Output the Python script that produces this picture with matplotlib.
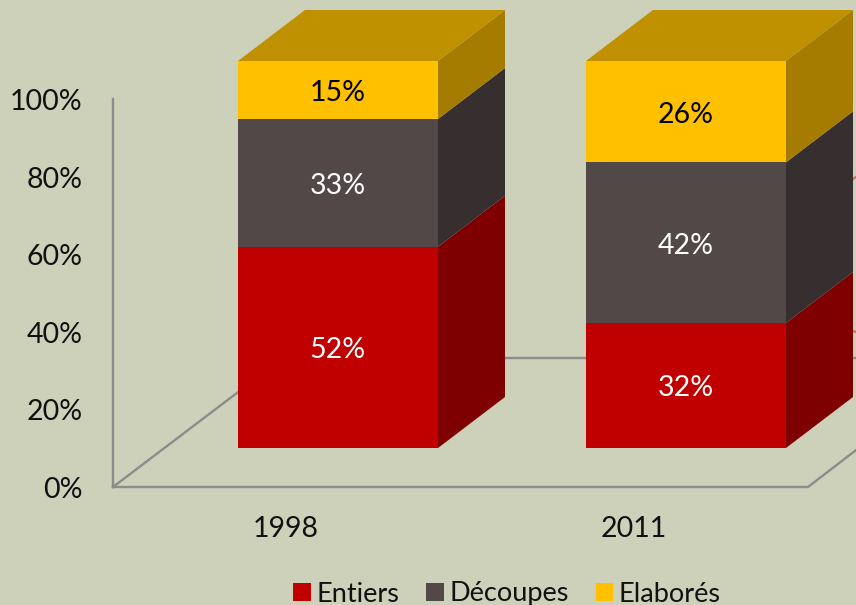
import matplotlib
matplotlib.use("Agg")
import matplotlib.pyplot as plt
from matplotlib.patches import Polygon, Patch

years = ["1998", "2011"]
series = ["Entiers", "Découpes", "Elaborés"]
# hauteurs, les etiquettes sont celles affichees
entiers = [52, 32.3]
decoupes = [33, 41.5]
elabores = [15, 26.2]
entiers_lab = ["52%", "32%"]
decoupes_lab = ["33%", "42%"]
elabores_lab = ["15%", "26%"]
ticks = [0, 20, 40, 60, 80, 100]

bg = "#CDD1B9"
front = ["#C00000", "#534848", "#FFC000"]
side = ["#7F0000", "#372F2F", "#A67C00"]
top = "#BF9000"
txt = ["white", "white", "black"]
axis_c = "#8C8C8C"

# geometrie en pixels
base_y = 448
scale = 3.87
wall_x = 113
wall_y = 487
wall_scale = 3.88
depth_x, depth_y = 67, -51
bar_left = [238, 586]
bar_w = 200

plt.rcParams['font.family'] = ['Lato', 'DejaVu Sans']

fig = plt.figure(figsize=(8.56, 6.05), dpi=100, facecolor=bg)
ax = fig.add_axes([0, 0, 1, 1])
ax.set_xlim(0, 856)
ax.set_ylim(605, 0)
ax.axis("off")

# plancher et mur
ax.plot([wall_x, wall_x], [wall_y - 100 * wall_scale, wall_y], c=axis_c, lw=1.7, zorder=1)
ax.plot([wall_x, 808, 860], [wall_y, wall_y, 447], c=axis_c, lw=1.7, zorder=1)
ax.plot([wall_x, 283, 860], [wall_y, 358, 358], c=axis_c, lw=1.7, zorder=1)
# petits bouts de lignes rouges a droite
ax.plot([853, 856], [179, 177], c="#C8705A", lw=1.5, zorder=1)
ax.plot([853, 856], [331, 332], c="#C8705A", lw=1.5, zorder=1)

for t in ticks:
    ax.text(82.5, wall_y - t * wall_scale + 3, "%d%%" % t, ha="right", va="center", fontsize=20.5, color="#111111")

stacks = [entiers, decoupes, elabores]
labels = [entiers_lab, decoupes_lab, elabores_lab]
for i in range(len(years)):
    x0 = bar_left[i]
    x1 = x0 + bar_w
    bottom = 0
    for k in range(3):
        val = stacks[k][i]
        y0 = base_y - bottom * scale
        y1 = base_y - (bottom + val) * scale
        ax.add_patch(Polygon([(x0, y0), (x1, y0), (x1, y1), (x0, y1)], fc=front[k], ec="none", zorder=3))
        ax.add_patch(Polygon([(x1, y0), (x1 + depth_x, y0 + depth_y), (x1 + depth_x, y1 + depth_y), (x1, y1)],
                             fc=side[k], ec="none", zorder=3))
        ax.text((x0 + x1) / 2 - 0.5, (y0 + y1) / 2 + 3, labels[k][i], ha="center", va="center",
                fontsize=20.5, color=txt[k], zorder=4)
        bottom += val
    ytop = base_y - bottom * scale
    ax.add_patch(Polygon([(x0, ytop), (x1, ytop), (x1 + depth_x, ytop + depth_y), (x0 + depth_x, ytop + depth_y)],
                         fc=top, ec="none", zorder=3))
    ax.text((x0 + x1) / 2 - 52, 529, years[i], ha="center", va="center", fontsize=20.5, color="#111111")

handles = [Patch(fc=front[k], ec="none", label=series[k]) for k in range(3)]
ax.legend(handles=handles, ncol=3, loc="center", bbox_to_anchor=(507, 594), bbox_transform=ax.transData,
          frameon=False, fontsize=19.5, handlelength=0.65, handleheight=0.65, handletextpad=0.2,
          columnspacing=1.0, borderpad=0, labelcolor="#111111")

fig.savefig("out.png", dpi=100, facecolor=bg)
